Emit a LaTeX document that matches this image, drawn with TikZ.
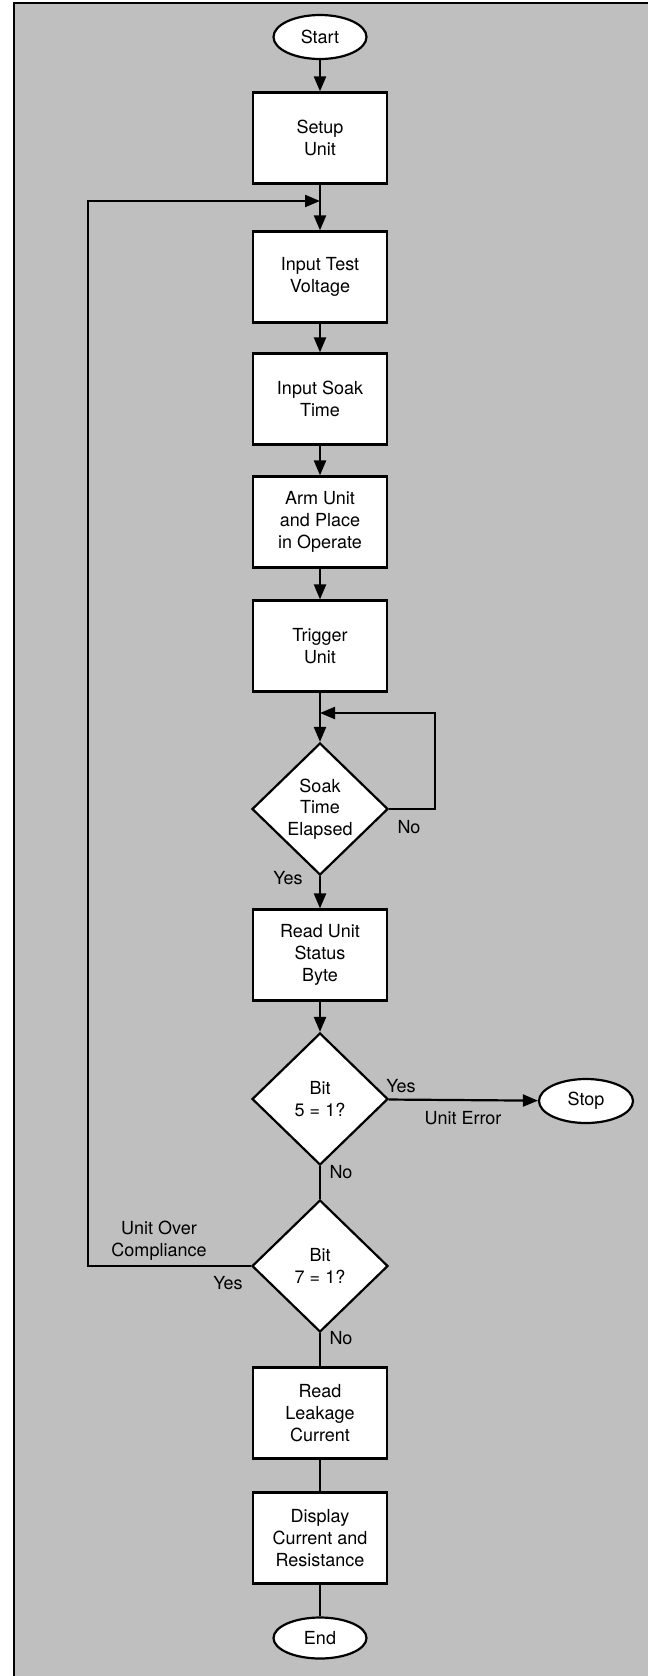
\documentclass[tikz,border=0pt]{standalone}
\usepackage{fontspec}
\setmainfont{TeX Gyre Heros}
\usetikzlibrary{shapes.geometric,arrows.meta}

\begin{document}
\begin{tikzpicture}[x=1pt,y=-1pt,
	every node/.style={font=\fontsize{18}{21.7}\selectfont},
	blk/.style={draw,fill=white,line width=2.2pt,minimum width=134pt,minimum height=91pt,align=center,inner sep=0pt},
	term/.style={draw,fill=white,ellipse,line width=2.2pt,minimum width=93pt,minimum height=44pt,inner sep=0pt},
	test/.style={draw,fill=white,diamond,line width=2.2pt,minimum width=136pt,minimum height=132pt,inner sep=0pt,align=center},
	flow/.style={line width=2.2pt,-{Triangle[length=15pt,width=12pt]}},
	wire/.style={line width=2.2pt}]
			%%%%% START %%%%%
			\def\cx{320}
			\def\lpx{88}
			\def\rpx{435}
			
			\useasboundingbox (0,0) rectangle (648,1676);
			\fill[black!25] (14,3) rectangle (648,1676);
			\draw[line width=2.2pt] (14,1676) -- (14,3) -- (648,3);
			
			\node[term] (start) at (\cx,37) {Start};
			\node[blk] (setup) at (\cx,138) {Setup\\Unit};
			\node[blk] (volt) at (\cx,277) {Input Test\\Voltage};
			\node[blk] (soak) at (\cx,399) {Input Soak\\Time};
			\node[blk] (arm) at (\cx,522) {Arm Unit\\and Place\\in Operate};
			\node[blk] (trig) at (\cx,646) {Trigger\\Unit};
			\node[test] (wait) at (\cx,809) {Soak\\Time\\Elapsed};
			\node[blk] (status) at (\cx,955) {Read Unit\\Status\\Byte};
			\node[test] (bit5) at (\cx,1099) {Bit\\5 = 1?};
			\node[test] (bit7) at (\cx,1266) {Bit\\7 = 1?};
			\node[blk] (leak) at (\cx,1413) {Read\\Leakage\\Current};
			\node[blk] (disp) at (\cx,1538) {Display\\Current and\\Resistance};
			\node[term,minimum height=41pt] (end) at (\cx,1638) {End};
			\node[term,minimum width=94pt] (stop) at (586,1101) {Stop};
			
			\coordinate (j1) at (\cx,201);
			\coordinate (c1) at (\lpx,201);
			\coordinate (j2) at (\cx,713);
			\coordinate (c2) at (\rpx,713);
			
			\draw[flow] (start) -- (setup);
			\draw[flow] (setup) -- (volt);
			\draw[flow] (volt) -- (soak);
			\draw[flow] (soak) -- (arm);
			\draw[flow] (arm) -- (trig);
			\draw[flow] (trig) -- (wait);
			\draw[flow] (wait) -- (status);
			\draw[flow] (status) -- (bit5);
			\draw[flow] (bit5) -- (stop);
			\draw[wire] (bit5) -- (bit7);
			\draw[wire] (bit7) -- (leak);
			\draw[wire] (leak) -- (disp);
			\draw[wire] (disp) -- (end);
			
			\draw[flow] (wait.east) -| (c2) -- (j2);
			\draw[flow] (bit7.west) -| (c1) -- (j1);
			
			\node (nowait) at (409,827) {No};
			\node (yeswait) at (288,878) {Yes};
			\node (yes5) at (401,1086) {Yes};
			\node (err) at (463,1118) {Unit Error};
			\node (no5) at (341,1172) {No};
			\node (yes7) at (228,1283) {Yes};
			\node[align=center] (over) at (159,1241) {Unit Over\\Compliance};
			\node (no7) at (341,1338) {No};
			%%%%% END %%%%%
		\end{tikzpicture}
\end{document}
